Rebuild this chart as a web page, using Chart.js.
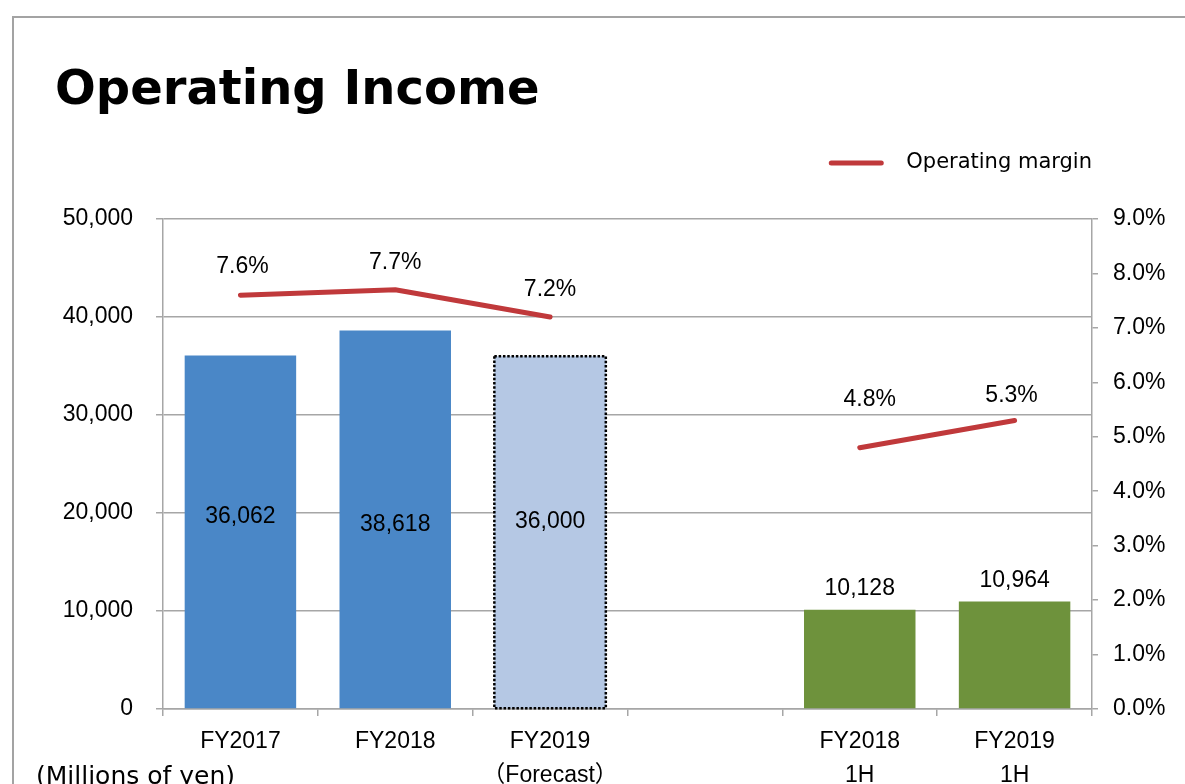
<!DOCTYPE html>
<html>
<head>
<meta charset="utf-8">
<title>Operating Income</title>
<script src="https://cdn.jsdelivr.net/npm/chart.js@4/dist/chart.umd.min.js"></script>
<style>
    html, body { margin: 0; padding: 0; background: #fff; overflow: hidden; }
    #wrap { position: relative; width: 1185px; height: 784px; }
    #frame {
        position: absolute; left: 12px; top: 16px; right: -4px; bottom: -4px;
        border-left: 2px solid #a3a3a3; border-top: 2px solid #a3a3a3;
    }
    #chart { position: absolute; left: 0; top: 0; }
</style>
</head>
<body>
<div id="wrap">
    <div id="frame"></div>
    <canvas id="chart" width="1185" height="784"></canvas>
</div>
<script>
// Datos del gráfico
const categories = [
    'FY2017',
    'FY2018',
    ['FY2019', '（Forecast）'],
    '',
    ['FY2018', '1H'],
    ['FY2019', '1H']
];
const operatingIncome = [36062, 38618, 36000, null, 10128, 10964];
const operatingMargin = [7.6, 7.7, 7.2, null, 4.8, 5.3];
const incomeTicks = [0, 10000, 20000, 30000, 40000, 50000];
const marginTicks = [0, 1, 2, 3, 4, 5, 6, 7, 8, 9];

const blue = '#4a87c7';
const lightBlue = '#b5c8e4';
const green = '#6e923c';
const red = '#c0393b';
const gridGray = '#a6a6a6';
const tickFont = { family: '"Liberation Sans", Arial, "Noto Sans CJK JP", sans-serif', size: 23 };

// Ajustes de las etiquetas (desplazamientos en px)
const barLabelShift = [-15, 5, -11, 0, 0, 0];
const marginLabelLift = [29, 27, 27, 0, 48, 25];
const marginLabelDx = [2, 0, 0, 0, 10, -3];

// Plugin: título, leyenda, etiquetas de datos y borde punteado
const decorPlugin = {
    id: 'decor',
    afterDatasetsDraw(chart) {
        const ctx = chart.ctx;
        const area = chart.chartArea;
        const bars = chart.getDatasetMeta(0).data;
        const points = chart.getDatasetMeta(1).data;

        ctx.save();

        // Borde punteado de la barra de previsión
        const fb = bars[2].getProps(['x', 'y', 'base', 'width'], true);
        ctx.strokeStyle = '#000';
        ctx.lineWidth = 2.5;
        ctx.setLineDash([2.5, 1.8]);
        ctx.strokeRect(fb.x - fb.width / 2, fb.y, fb.width, fb.base - fb.y);
        ctx.setLineDash([]);

        // Etiquetas de las barras
        ctx.fillStyle = '#000';
        ctx.font = tickFont.size + 'px ' + tickFont.family;
        ctx.textAlign = 'center';
        ctx.textBaseline = 'middle';
        operatingIncome.forEach((v, i) => {
            if (v === null) return;
            const b = bars[i].getProps(['x', 'y', 'base'], true);
            const text = v.toLocaleString('en-US');
            if (i < 3) {
                ctx.fillText(text, b.x, (b.y + b.base) / 2 + barLabelShift[i]);
            } else {
                ctx.fillText(text, b.x, b.y - 21);
            }
        });

        // Etiquetas del margen
        operatingMargin.forEach((v, i) => {
            if (v === null) return;
            const p = points[i].getProps(['x', 'y'], true);
            ctx.fillText(v.toFixed(1) + '%', p.x + marginLabelDx[i], p.y - marginLabelLift[i]);
        });

        // Título
        ctx.textAlign = 'left';
        ctx.textBaseline = 'alphabetic';
        ctx.font = 'bold 48px "DejaVu Sans", Verdana, sans-serif';
        ctx.fillText('Operating Income', 55, 104);

        // Leyenda
        ctx.font = '21px "DejaVu Sans", sans-serif';
        ctx.textBaseline = 'middle';
        const legendText = chart.data.datasets[1].label;
        const tw = ctx.measureText(legendText).width;
        const tx = area.right - tw;
        ctx.fillText(legendText, tx, 163);
        ctx.strokeStyle = red;
        ctx.lineWidth = 5;
        ctx.lineCap = 'round';
        ctx.beginPath();
        ctx.moveTo(tx - 75, 163);
        ctx.lineTo(tx - 25, 163);
        ctx.stroke();

        // Unidades
        ctx.font = '25px "DejaVu Sans", sans-serif';
        ctx.fillStyle = '#000';
        ctx.fillText('(Millions of yen)', 36, 777);

        ctx.restore();
    }
};

const ctx = document.getElementById('chart').getContext('2d');
const incomeChart = new Chart(ctx, {
    type: 'bar',
    data: {
        labels: categories,
        datasets: [{
            label: 'Operating income',
            data: operatingIncome,
            backgroundColor: [blue, blue, lightBlue, blue, green, green],
            borderWidth: 0,
            categoryPercentage: 0.72,
            barPercentage: 1,
            yAxisID: 'y',
            order: 2
        }, {
            type: 'line',
            label: 'Operating margin',
            data: operatingMargin,
            borderColor: red,
            backgroundColor: red,
            borderWidth: 5,
            borderCapStyle: 'round',
            borderJoinStyle: 'round',
            pointRadius: 0,
            spanGaps: false,
            tension: 0,
            yAxisID: 'y1',
            order: 1
        }]
    },
    options: {
        responsive: false,
        animation: false,
        devicePixelRatio: 1,
        layout: { padding: { top: 219, left: 0, right: 0, bottom: 0 } },
        plugins: {
            legend: { display: false },
            title: { display: false },
            tooltip: { enabled: false }
        },
        scales: {
            x: {
                grid: {
                    offset: true,
                    drawOnChartArea: false,
                    drawTicks: true,
                    tickLength: 7,
                    color: gridGray,
                    lineWidth: 1.5
                },
                border: { color: gridGray, width: 1.5 },
                ticks: {
                    color: '#000',
                    font: Object.assign({ lineHeight: 1.48 }, tickFont),
                    padding: 9,
                    maxRotation: 0,
                    autoSkip: false
                },
                afterFit(scale) { scale.height = 75; }
            },
            y: {
                position: 'left',
                min: 0,
                max: 50000,
                afterBuildTicks(scale) { scale.ticks = incomeTicks.map(v => ({ value: v })); },
                grid: { color: gridGray, lineWidth: 1.5, tickLength: 7 },
                border: { color: gridGray, width: 1.5 },
                ticks: {
                    color: '#000',
                    font: tickFont,
                    padding: 23,
                    callback: v => v.toLocaleString('en-US')
                },
                afterFit(scale) { scale.width = 163; }
            },
            y1: {
                position: 'right',
                min: 0,
                max: 9,
                afterBuildTicks(scale) { scale.ticks = marginTicks.map(v => ({ value: v })); },
                grid: { drawOnChartArea: false, color: gridGray, lineWidth: 1.5, tickLength: 6 },
                border: { color: gridGray, width: 1.5 },
                ticks: {
                    color: '#000',
                    font: tickFont,
                    padding: 15,
                    callback: v => v.toFixed(1) + '%'
                },
                afterFit(scale) { scale.width = 93; }
            }
        }
    },
    plugins: [decorPlugin]
});
</script>
</body>
</html>
